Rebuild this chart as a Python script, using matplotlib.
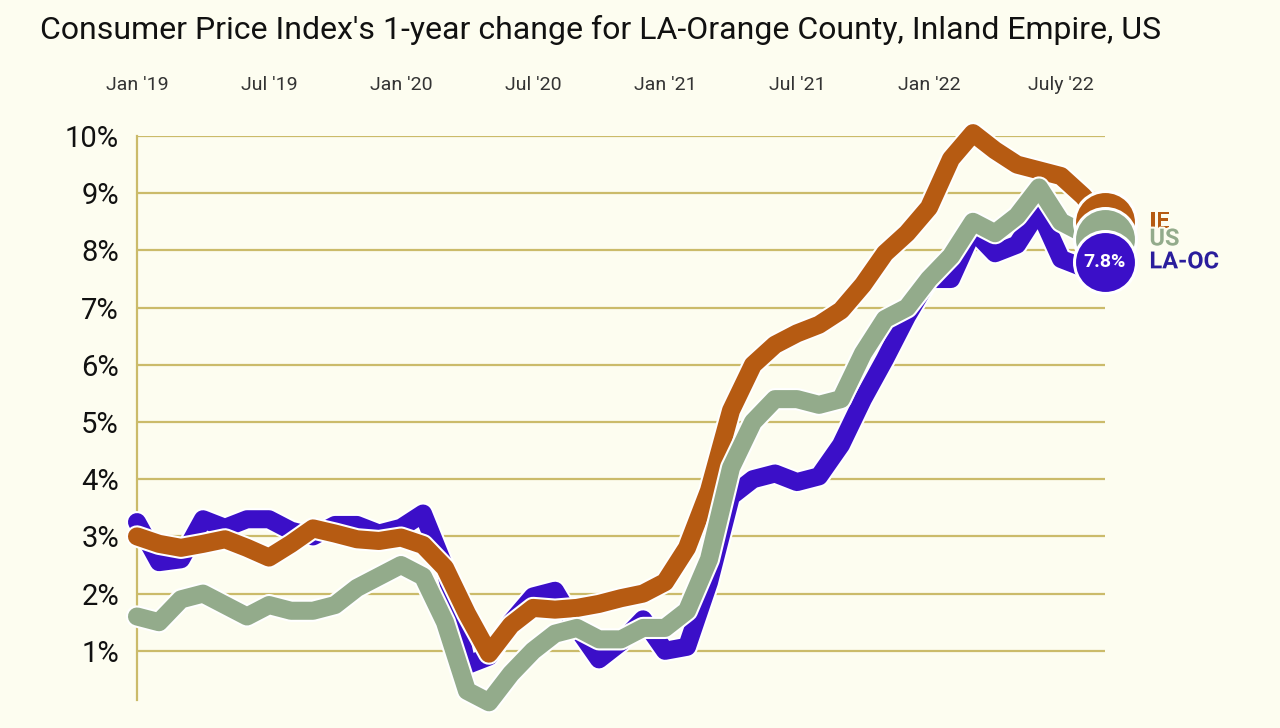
import matplotlib
matplotlib.use("Agg")
import matplotlib.pyplot as plt
import matplotlib.patheffects as pe

# monthly 1-year CPI change, Jan 2019 .. Sep 2022
months = list(range(45))
la_oc = [3.25, 2.55, 2.6, 3.3, 3.15, 3.3, 3.3, 3.1, 3.0, 3.2, 3.2, 3.05,
         3.15, 3.4, 2.45, 0.75, 0.9, 1.5, 1.95, 2.05, 1.4, 0.85, 1.15, 1.55,
         1.0, 1.07, 2.2, 3.7, 4.0, 4.1, 3.95, 4.05, 4.6, 5.4, 6.1, 6.85,
         7.5, 7.5, 8.35, 7.95, 8.1, 8.7, 7.85, 7.7, 7.8]
ie = [3.0, 2.87, 2.8, 2.87, 2.95, 2.8, 2.63, 2.87, 3.14, 3.05, 2.95, 2.92,
      2.98, 2.85, 2.45, 1.65, 0.95, 1.45, 1.75, 1.72, 1.75, 1.82, 1.92, 2.0,
      2.2, 2.8, 3.8, 5.2, 6.0, 6.35, 6.55, 6.7, 6.95, 7.4, 7.95, 8.3,
      8.75, 9.6, 10.05, 9.75, 9.5, 9.4, 9.3, 8.95, 8.5]
us = [1.6, 1.5, 1.9, 2.0, 1.8, 1.6, 1.8, 1.7, 1.7, 1.8, 2.1, 2.3,
      2.5, 2.3, 1.5, 0.3, 0.1, 0.6, 1.0, 1.3, 1.4, 1.2, 1.2, 1.4,
      1.4, 1.7, 2.6, 4.2, 5.0, 5.4, 5.4, 5.3, 5.4, 6.2, 6.8, 7.0,
      7.5, 7.9, 8.5, 8.3, 8.6, 9.1, 8.5, 8.3, 8.2]

tick_pos = [0, 6, 12, 18, 24, 30, 36, 42]
tick_lab = ["Jan '19", "Jul '19", "Jan '20", "Jul '20", "Jan '21", "Jul '21", "Jan '22", "July '22"]
yticks = list(range(1, 11))

BG = "#fdfdf0"
GRID = "#cbbb6a"
BLUE, ORANGE, GREEN = "#3b0fc8", "#b65b12", "#93ab8b"
FONT = ["Roboto", "DejaVu Sans"]

fig = plt.figure(figsize=(12.8, 7.28), dpi=100, facecolor=BG)
ax = fig.add_axes([137 / 1280, 1 - 700 / 728, (1105 - 137) / 1280, (700 - 136) / 728])
ax.set_facecolor(BG)
ax.set_xlim(0, 44)
ax.set_ylim(0.14, 10)

for sp in ("top", "right", "bottom"):
    ax.spines[sp].set_visible(False)
ax.spines["left"].set_color(GRID)
ax.spines["left"].set_linewidth(1.6)

ax.set_yticks(yticks)
ax.set_yticklabels([f"{v}%" for v in yticks], family=FONT, fontsize=21, color="#111111")
ax.yaxis.grid(True, color=GRID, lw=1.6)
ax.set_axisbelow(True)
ax.tick_params(axis="y", length=0, pad=13)

ax.xaxis.tick_top()
ax.set_xticks(tick_pos)
ax.set_xticklabels(tick_lab, family=FONT, fontsize=14, color="#333333")
ax.tick_params(axis="x", length=0, pad=30)

halo = [pe.Stroke(linewidth=16, foreground="white"), pe.Normal()]
# (name, values, line colour, label colour, z order)
series = [("LA-OC", la_oc, BLUE, "#2a1d9c", 3),
          ("IE", ie, ORANGE, ORANGE, 4),
          ("US", us, GREEN, GREEN, 5)]
for name, vals, col, tcol, z in series:
    ax.plot(months, vals, color=col, lw=13, solid_joinstyle="round", solid_capstyle="round",
            zorder=z, clip_on=False, path_effects=halo)

# end-point bubbles and labels: orange under green under blue
for i, (name, vals, col, tcol, z) in enumerate([series[1], series[2], series[0]]):
    ax.scatter([months[-1]], [vals[-1]], s=1990, color=col, edgecolor="white", lw=2.2,
               zorder=10 + i, clip_on=False)
    ax.annotate(name, (months[-1], vals[-1]), xytext=(32, 0), textcoords="offset points",
                ha="left", va="center", fontsize=17, fontweight="bold", color=tcol,
                family=FONT, zorder=20 + i, annotation_clip=False,
                path_effects=[pe.withStroke(linewidth=3, foreground=BG)])
ax.annotate(f"{la_oc[-1]:.1f}%", (months[-1], la_oc[-1]), ha="center", va="center",
            fontsize=14, fontweight="bold", color="white", family=FONT, zorder=30,
            annotation_clip=False)

fig.text(40 / 1280, 1 - 30 / 728, "Consumer Price Index's 1-year change for LA-Orange County, Inland Empire, US",
         family=FONT, fontsize=23, color="#111111", ha="left", va="center")

fig.savefig("out.png", dpi=100, facecolor=BG)
